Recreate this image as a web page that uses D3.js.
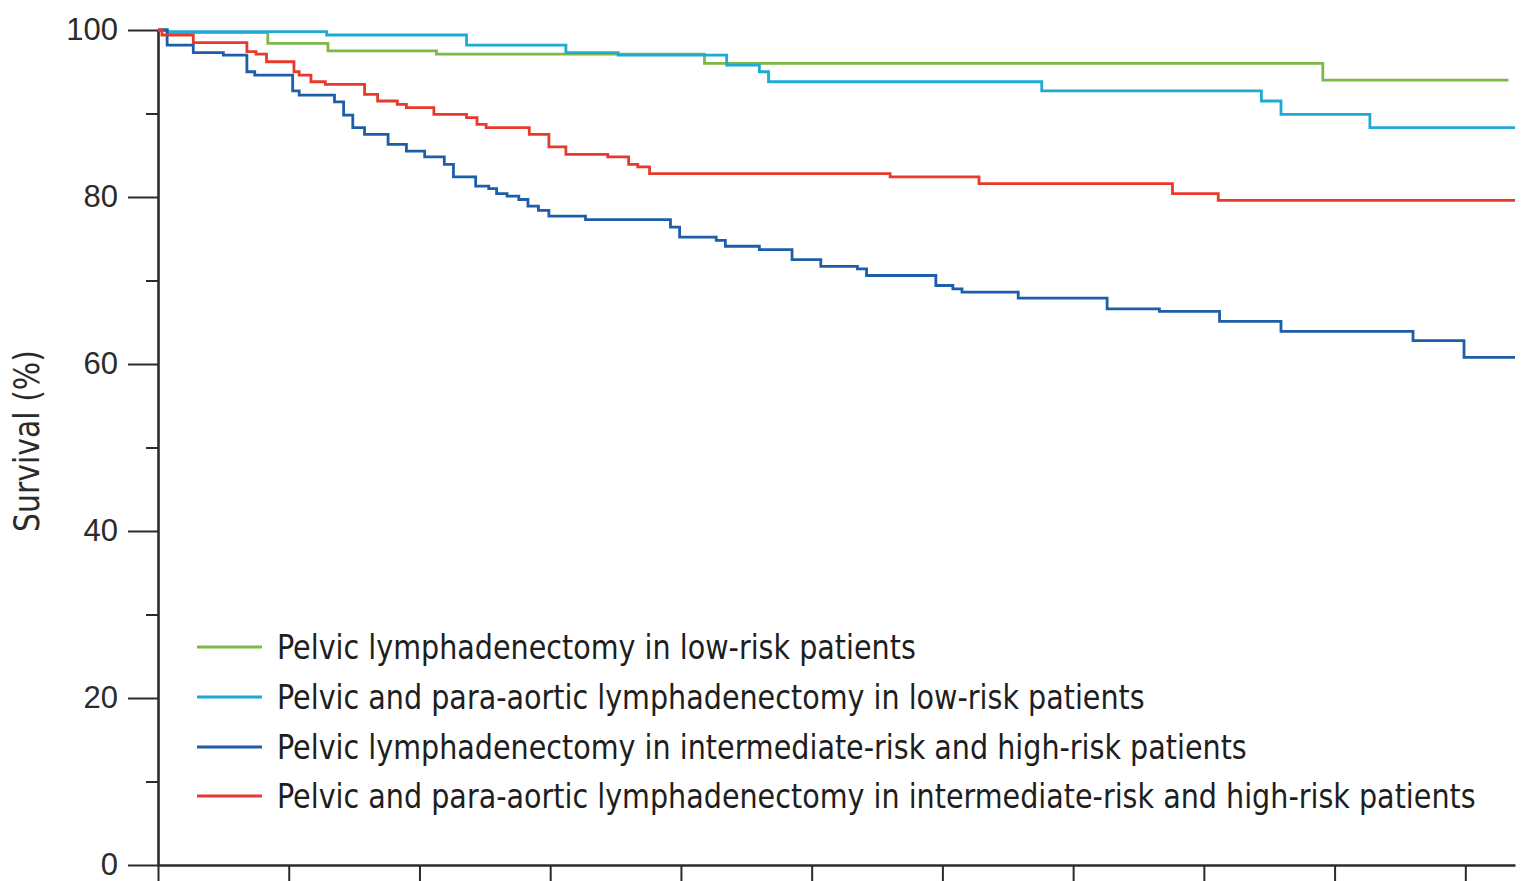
<!DOCTYPE html>
<html>
<head>
<meta charset="utf-8">
<script src="https://cdn.jsdelivr.net/npm/d3@7"></script>
<style>
  html, body { margin: 0; padding: 0; background: #fff; }
  svg { display: block; }
</style>
</head>
<body>
<svg id="chart" width="1521" height="881"></svg>
<script>
// ---- data (time in years, survival in %) ----
const seriesNames = [
  "Pelvic lymphadenectomy in low-risk patients",
  "Pelvic and para-aortic lymphadenectomy in low-risk patients",
  "Pelvic lymphadenectomy in intermediate-risk and high-risk patients",
  "Pelvic and para-aortic lymphadenectomy in intermediate-risk and high-risk patients"
];
const seriesColors = ["#7cb947", "#1eaad2", "#1c5ea8", "#e8392d"];

const greenTimes  = [0, 0.07, 0.84, 1.30, 2.13, 4.18, 8.91, 10.33];
const greenValues = [100, 99.7, 98.4, 97.5, 97.1, 96.0, 94.0, 94.0];

const cyanTimes  = [0, 0.07, 1.29, 2.36, 3.12, 3.52, 4.35, 4.60, 4.67, 6.76, 8.44, 8.59, 9.27, 10.38];
const cyanValues = [100, 99.8, 99.4, 98.2, 97.3, 97.0, 95.8, 95.0, 93.8, 92.7, 91.5, 89.9, 88.3, 88.3];

const blueTimes  = [0, 0.07, 0.27, 0.50, 0.68, 0.74, 1.03, 1.08, 1.35, 1.42, 1.49, 1.58, 1.76, 1.90, 2.04, 2.19, 2.26,
                    2.43, 2.53, 2.59, 2.67, 2.76, 2.83, 2.91, 2.99, 3.27, 3.92, 3.99, 4.27, 4.34, 4.60, 4.85, 5.07,
                    5.35, 5.42, 5.95, 6.08, 6.15, 6.58, 7.26, 7.66, 8.12, 8.59, 9.60, 9.99, 10.38];
const blueValues = [100, 98.2, 97.3, 97.0, 95.0, 94.6, 92.7, 92.2, 91.4, 89.8, 88.3, 87.5, 86.3, 85.5, 84.8, 83.9, 82.4,
                    81.3, 81.0, 80.4, 80.1, 79.7, 78.9, 78.4, 77.7, 77.3, 76.4, 75.2, 74.8, 74.1, 73.7, 72.5, 71.7,
                    71.4, 70.6, 69.4, 69.0, 68.6, 67.9, 66.6, 66.3, 65.1, 63.9, 62.8, 60.8, 60.8];

const redTimes  = [0, 0.03, 0.27, 0.68, 0.75, 0.83, 1.04, 1.08, 1.17, 1.28, 1.58, 1.68, 1.83, 1.90, 2.11, 2.36, 2.44,
                   2.51, 2.84, 2.99, 3.12, 3.44, 3.60, 3.67, 3.76, 5.60, 6.28, 7.76, 8.11, 10.38];
const redValues = [100, 99.4, 98.5, 97.4, 97.1, 96.2, 95.0, 94.6, 93.8, 93.5, 92.3, 91.5, 91.1, 90.7, 89.9, 89.5, 88.7,
                   88.3, 87.5, 86.0, 85.1, 84.8, 83.9, 83.6, 82.8, 82.4, 81.6, 80.4, 79.6, 79.6];

const yMajorTicks = [0, 20, 40, 60, 80, 100];
const yMinorTicks = [10, 30, 50, 70, 90];
const xTicks = [0, 1, 2, 3, 4, 5, 6, 7, 8, 9, 10];
const yTitle = "Survival (%)";

// ---- layout ----
const svg = d3.select("#chart");
const x = d3.scaleLinear().domain([0, 10.38]).range([158, 1515]);
const y = d3.scaleLinear().domain([0, 100]).range([865, 30]);

const condensed = "'Liberation Sans Narrow', 'DejaVu Sans Condensed', 'Open Sans', sans-serif";
const axisColor = "#2b2b2b";

// x axis
const xAxis = svg.append("g")
  .attr("transform", "translate(0,865)")
  .call(d3.axisBottom(x).tickValues(xTicks).tickSize(18).tickSizeOuter(0).tickFormat(""));
xAxis.select(".domain").attr("stroke", axisColor).attr("stroke-width", 2.6);
xAxis.selectAll(".tick line").attr("stroke", axisColor).attr("stroke-width", 2);

// y axis minor ticks
const yMinor = svg.append("g")
  .attr("transform", "translate(158,0)")
  .call(d3.axisLeft(y).tickValues(yMinorTicks).tickSize(12).tickSizeOuter(0).tickFormat(""));
yMinor.select(".domain").remove();
yMinor.selectAll(".tick line").attr("stroke", axisColor).attr("stroke-width", 2);

// y axis major
const yAxis = svg.append("g")
  .attr("transform", "translate(158,0)")
  .call(d3.axisLeft(y).tickValues(yMajorTicks).tickSize(30).tickSizeOuter(0).tickPadding(10));
yAxis.select(".domain").attr("stroke", axisColor).attr("stroke-width", 2.6);
yAxis.selectAll(".tick line").attr("stroke", axisColor).attr("stroke-width", 2);
yAxis.selectAll(".tick text")
  .attr("fill", "#2b2b2b")
  .attr("dy", "0.3em")
  .style("font-family", "'Liberation Sans', Arial, sans-serif")
  .style("font-size", "31px");

// y title (horizontally condensed via scale)
const yt = svg.append("text")
  .attr("text-anchor", "middle")
  .attr("fill", "#2b2b2b")
  .style("font-family", condensed)
  .style("font-size", "35px")
  .text(yTitle);
{
  const w = yt.node().getComputedTextLength();
  const k = w > 0 ? 182 / w : 1;
  yt.attr("transform", `translate(39,441) rotate(-90) scale(${k},1)`);
}

// curves
const series = [
  { t: greenTimes, v: greenValues },
  { t: cyanTimes, v: cyanValues },
  { t: blueTimes, v: blueValues },
  { t: redTimes, v: redValues }
];
const line = d3.line().x(d => x(d[0])).y(d => y(d[1])).curve(d3.curveStepAfter);
series.forEach((s, i) => {
  const pts = s.t.map((t, j) => [t, s.v[j]]);
  svg.append("path")
    .attr("d", line(pts))
    .attr("fill", "none")
    .attr("stroke", seriesColors[i])
    .attr("stroke-width", 2.8);
});

// legend
const legendY = [647, 697, 747, 796];
const lg = svg.append("g");
const texts = [];
seriesNames.forEach((name, i) => {
  lg.append("line")
    .attr("x1", 197).attr("x2", 262)
    .attr("y1", legendY[i]).attr("y2", legendY[i])
    .attr("stroke", seriesColors[i]).attr("stroke-width", 2.8);
  texts.push(lg.append("text")
    .attr("x", 0).attr("y", 0)
    .attr("dy", "0.35em")
    .attr("fill", "#1e1e1e")
    .style("font-family", condensed)
    .style("font-size", "34px")
    .text(name));
});
// condense glyphs so the first entry spans ~639px, the rest proportionally
const w0 = texts[0].node().getComputedTextLength();
const kx = w0 > 0 ? 639 / w0 : 1;
texts.forEach((t, i) => {
  t.attr("transform", `translate(277,${legendY[i]}) scale(${kx},1)`);
});
</script>
</body>
</html>
